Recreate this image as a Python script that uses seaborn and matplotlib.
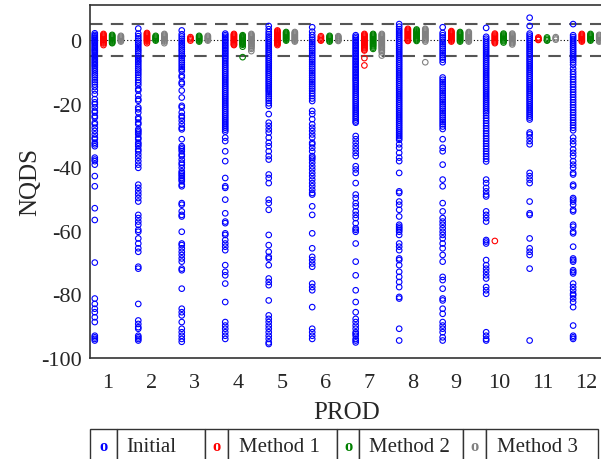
import matplotlib
matplotlib.use("Agg")
import matplotlib.pyplot as plt
import seaborn as sns
import pandas as pd

prods = [str(i) for i in range(1, 13)]
methods = ["Initial", "Method 1", "Method 2", "Method 3"]
colors = ["blue", "red", "green", "gray"]

# NQDS values per PROD (1..12)
initial = [
    [2.1, 1.6, 1.2, 0.8, 0.5, 0.1, -0.3, -0.7, -1.0, -1.4, -1.8, -2.2, -2.6, -3.0, -3.3, -3.7, -4.1, -4.6,
     -5.0, -5.4, -5.9, -6.3, -6.8, -7.2, -7.7, -8.1, -8.6, -9.2, -9.8, -10.5, -11.1, -11.8, -12.6, -13.3,
     -14.0, -14.8, -15.9, -17.0, -18.6, -19.6, -20.2, -21.2, -22.3, -22.8, -23.9, -24.4, -26.0, -26.5,
     -27.6, -28.6, -29.7, -30.7, -31.2, -32.3, -32.8, -33.4, -37.0, -37.6, -38.1, -39.2, -42.8, -46.0,
     -52.9, -56.6, -70.0, -81.3, -83.0, -84.5, -85.6, -87.2, -88.7, -93.0, -93.5, -94.0, -94.5],
    [3.6, 2.0, 1.2, 0.5, -0.2, -0.9, -1.5, -2.2, -2.9, -3.5, -4.2, -5.0, -5.6, -6.3, -6.9, -7.6, -8.3, -9.0,
     -9.6, -10.3, -11.0, -11.8, -12.6, -13.4, -14.2, -15.4, -15.9, -17.5, -18.6, -19.1, -21.2, -21.8, -22.8,
     -24.4, -24.9, -26.0, -26.5, -28.1, -28.6, -29.1, -29.7, -30.7, -31.2, -32.3, -32.8, -33.4, -34.4, -35.0,
     -36.0, -37.0, -38.1, -39.2, -40.2, -45.5, -46.5, -47.6, -48.6, -49.7, -50.8, -55.0, -56.0, -57.1, -58.1,
     -59.7, -60.3, -62.4, -64.0, -65.5, -66.6, -71.3, -71.9, -83.0, -88.2, -89.3, -90.3, -90.8, -93.0, -93.5,
     -94.0, -94.5],
    [3.0, 1.8, 1.1, 0.4, -0.3, -1.0, -1.6, -2.3, -3.0, -3.6, -4.3, -5.0, -5.7, -6.4, -7.1, -7.8, -8.5, -9.2,
     -9.8, -11.2, -11.7, -13.3, -13.8, -15.9, -18.1, -20.7, -21.2, -22.8, -23.9, -24.4, -25.4, -26.5, -27.6,
     -28.1, -31.2, -33.4, -33.9, -34.4, -35.0, -36.0, -36.5, -37.6, -38.6, -39.2, -40.2, -41.3, -41.8, -42.3,
     -42.8, -43.4, -43.9, -44.4, -45.5, -46.0, -51.3, -51.8, -53.9, -55.0, -55.5, -60.3, -64.0, -64.5, -65.5,
     -66.6, -67.6, -68.7, -69.7, -71.9, -72.4, -78.2, -84.5, -85.6, -86.6, -88.7, -90.8, -91.9, -93.0, -94.0,
     -94.9],
    [2.0, 1.5, 1.0, 0.5, 0.0, -0.5, -1.0, -1.5, -2.0, -2.5, -3.0, -3.5, -4.0, -4.5, -5.0, -5.5, -6.0, -6.6,
     -7.2, -7.8, -8.4, -9.0, -9.6, -10.2, -10.8, -11.4, -12.0, -12.6, -13.2, -13.8, -14.4, -15.0, -15.6,
     -16.2, -16.8, -17.4, -18.0, -18.6, -19.2, -19.8, -20.4, -21.0, -21.6, -22.2, -22.8, -23.4, -24.0, -24.6,
     -25.2, -25.8, -26.4, -27.0, -27.6, -28.2, -28.8, -30.7, -31.8, -35.0, -38.1, -43.4, -46.0, -46.5, -50.2,
     -54.5, -57.1, -57.6, -60.8, -61.3, -62.9, -64.0, -65.0, -66.1, -70.8, -72.9, -74.0, -76.6, -82.4, -88.7,
     -89.8, -90.8, -91.9, -93.0, -94.0],
    [4.4, 3.4, 2.5, 1.8, 1.1, 0.5, -0.1, -0.7, -1.3, -1.9, -2.5, -3.1, -3.7, -4.3, -4.9, -5.5, -6.1, -6.7,
     -7.3, -7.9, -8.5, -9.1, -9.7, -10.3, -10.9, -11.5, -12.1, -12.7, -13.3, -13.9, -14.5, -15.1, -15.7,
     -16.3, -17.0, -17.7, -18.4, -19.1, -19.9, -20.7, -23.3, -26.0, -27.0, -28.1, -29.1, -30.7, -32.3, -33.4,
     -35.0, -36.5, -37.6, -42.3, -43.4, -45.0, -50.2, -51.3, -53.4, -61.3, -64.5, -66.6, -68.2, -68.7, -70.8,
     -75.0, -76.1, -77.1, -81.9, -86.6, -87.7, -88.7, -89.8, -90.8, -91.9, -93.0, -94.0, -95.1, -95.6],
    [4.0, 2.6, 1.6, 0.8, 0.1, -0.6, -1.3, -2.0, -2.7, -3.4, -4.1, -4.8, -5.5, -6.2, -6.9, -7.6, -8.3, -9.0,
     -9.7, -10.4, -11.1, -11.8, -12.5, -13.2, -13.9, -14.6, -15.3, -16.0, -16.8, -17.6, -18.4, -19.2, -22.3,
     -23.3, -24.9, -26.5, -27.6, -28.6, -29.7, -30.7, -32.3, -32.8, -33.9, -35.0, -36.5, -37.0, -37.6, -38.6,
     -39.7, -40.7, -41.8, -42.8, -43.9, -45.0, -46.0, -47.1, -48.1, -48.6, -52.3, -55.0, -60.8, -65.5, -68.2,
     -69.2, -70.3, -71.3, -76.6, -77.7, -78.7, -84.0, -90.8, -91.9, -93.0, -94.0],
    [1.5, 1.0, 0.5, 0.0, -0.5, -1.0, -1.5, -2.0, -2.5, -3.0, -3.5, -4.0, -4.5, -5.0, -5.5, -6.0, -6.5, -7.0,
     -7.5, -8.0, -8.5, -9.0, -9.5, -10.0, -10.5, -11.0, -11.5, -12.0, -12.5, -13.0, -13.6, -14.2, -14.8,
     -15.4, -16.0, -16.6, -17.2, -17.8, -18.4, -19.0, -19.6, -20.2, -20.8, -21.4, -22.0, -22.6, -23.2, -23.8,
     -24.4, -25.0, -25.6, -26.0, -30.2, -31.2, -32.3, -33.4, -34.4, -35.5, -36.5, -39.7, -40.7, -41.8, -45.0,
     -48.6, -49.7, -51.3, -52.3, -53.9, -55.0, -56.0, -57.6, -59.2, -59.7, -60.3, -64.0, -69.7, -74.0, -78.7,
     -82.4, -85.6, -87.7, -88.7, -89.8, -90.8, -91.9, -92.4, -93.0, -94.0, -94.5, -95.1],
    [5.0, 4.2, 3.4, 2.8, 2.2, 1.6, 1.0, 0.4, -0.2, -0.8, -1.4, -2.0, -2.6, -3.2, -3.8, -4.4, -5.0, -5.6,
     -6.2, -6.8, -7.4, -8.0, -8.6, -9.2, -9.8, -10.4, -11.0, -11.6, -12.2, -12.8, -13.4, -14.0, -14.6, -15.2,
     -15.8, -16.4, -17.0, -17.6, -18.2, -18.8, -19.4, -20.0, -20.6, -21.2, -21.8, -22.4, -23.0, -23.6, -24.2,
     -24.8, -25.4, -26.0, -26.6, -27.2, -27.8, -28.4, -29.0, -29.6, -30.2, -30.8, -31.4, -32.8, -33.9, -35.5,
     -37.0, -38.1, -41.8, -47.6, -48.1, -50.8, -51.8, -53.4, -55.5, -58.1, -58.7, -59.2, -59.7, -60.3, -61.3,
     -64.0, -65.0, -66.1, -68.7, -69.2, -70.8, -72.9, -74.5, -76.1, -77.7, -80.8, -81.3, -90.8, -94.5],
    [4.0, 2.2, 1.5, 0.8, 0.1, -0.6, -1.3, -2.0, -2.7, -3.4, -4.1, -4.8, -5.5, -6.2, -7.0, -11.8, -12.5,
     -13.2, -13.9, -14.6, -15.3, -16.0, -16.7, -17.4, -18.1, -18.8, -19.5, -20.2, -20.9, -21.6, -22.3, -23.0,
     -23.7, -24.4, -25.1, -25.8, -26.5, -27.2, -28.0, -31.2, -33.9, -35.0, -39.2, -43.9, -46.0, -51.3, -53.9,
     -56.0, -57.1, -58.1, -59.2, -60.3, -61.3, -62.4, -64.0, -65.5, -67.6, -69.7, -74.5, -75.5, -78.2, -81.3,
     -81.9, -84.5, -86.1, -88.7, -89.8, -90.8, -91.9, -93.5, -94.5],
    [3.8, 1.0, 0.4, -0.2, -0.8, -1.4, -2.0, -2.6, -3.2, -3.8, -4.4, -5.0, -5.6, -6.2, -6.8, -7.4, -8.0,
     -8.6, -9.2, -9.8, -10.4, -11.0, -11.6, -12.2, -12.8, -13.4, -14.0, -14.6, -15.2, -15.8, -16.4, -17.0,
     -17.6, -18.2, -18.8, -19.4, -20.0, -20.6, -21.2, -21.8, -22.4, -23.0, -23.8, -24.6, -25.4, -26.2, -27.0,
     -27.8, -28.6, -29.4, -30.2, -31.0, -31.8, -32.6, -33.4, -34.2, -35.0, -35.8, -36.6, -37.4, -38.2, -43.9,
     -45.0, -46.5, -47.6, -48.6, -49.2, -53.9, -55.0, -56.0, -57.1, -62.9, -63.4, -64.0, -69.2, -70.8, -71.9,
     -72.9, -74.0, -75.0, -77.7, -78.7, -79.8, -91.9, -93.0, -94.0, -94.5],
    [7.0, 4.4, 2.0, 1.4, 0.8, 0.2, -0.4, -1.0, -1.6, -2.2, -2.8, -3.4, -4.0, -4.6, -5.2, -5.8, -6.4, -7.0,
     -7.6, -8.2, -8.8, -9.4, -10.0, -10.6, -11.2, -11.8, -12.4, -13.0, -13.6, -14.2, -14.8, -15.4, -16.0,
     -16.6, -17.2, -17.8, -18.4, -19.0, -19.6, -20.2, -20.8, -21.4, -22.0, -22.6, -23.2, -23.8, -24.4, -25.0,
     -29.1, -29.7, -30.7, -31.8, -32.8, -41.8, -42.8, -43.9, -45.0, -50.8, -54.5, -55.0, -62.4, -65.5, -66.6,
     -67.6, -71.9, -94.5],
    [5.0, 1.5, 0.9, 0.3, -0.3, -0.9, -1.5, -2.1, -2.7, -3.3, -3.9, -4.5, -5.1, -5.7, -6.3, -7.0, -7.8, -9.0,
     -10.0, -10.8, -11.6, -12.4, -13.2, -14.0, -14.8, -15.6, -16.4, -17.2, -18.0, -18.8, -19.6, -20.4, -21.2,
     -22.0, -22.8, -23.6, -24.4, -25.2, -26.0, -26.8, -27.6, -28.4, -30.7, -31.8, -32.8, -34.4, -35.5, -36.5,
     -38.1, -39.2, -40.2, -41.8, -42.3, -45.5, -46.0, -49.7, -50.2, -50.8, -51.8, -53.4, -53.9, -58.1, -58.7,
     -60.3, -60.8, -65.0, -68.7, -69.2, -69.7, -72.4, -72.9, -73.4, -76.6, -77.7, -78.7, -79.8, -80.3, -81.3,
     -82.4, -84.0, -89.8, -93.0, -93.5, -94.0],
]

method1 = [
    [1.9, 1.6, 1.3, 1.0, 0.7, 0.4, 0.1, -0.2, -0.5, -0.8, -1.1, -1.6],
    [2.2, 1.9, 1.6, 1.3, 1.0, 0.7, 0.4, 0.1, -0.2, -0.5, -1.0],
    [0.9, 0.5, 0.2, -0.2],
    [1.9, 1.6, 1.3, 1.0, 0.7, 0.4, 0.1, -0.2, -0.5, -0.8, -1.1, -1.4, -1.6],
    [3.0, 2.7, 2.4, 2.1, 1.8, 1.5, 1.2, 0.9, 0.6, 0.3, 0.0, -0.3, -0.6, -0.9, -1.2, -1.6],
    [1.2, 0.8, 0.4, 0.0, -0.2],
    [1.9, 1.6, 1.3, 1.0, 0.7, 0.4, 0.1, -0.2, -0.5, -0.8, -1.1, -1.4, -1.7, -2.0, -2.3, -2.6, -3.0, -3.3,
     -5.7, -8.0],
    [3.5, 3.2, 2.9, 2.6, 2.3, 2.0, 1.7, 1.4, 1.1, 0.8, 0.5, 0.2, -0.1, -0.3],
    [2.8, 2.5, 2.2, 1.9, 1.6, 1.3, 1.0, 0.7, 0.4, 0.1, -0.2, -0.5],
    [2.0, 1.7, 1.4, 1.1, 0.8, 0.5, 0.2, -0.1, -0.4, -0.7, -1.0, -63.2],
    [0.8, 0.5, 0.2, 0.0],
    [1.9, 1.6, 1.3, 1.0, 0.7, 0.4, 0.1, -0.2, -0.5],
]

method2 = [
    [1.6, 1.3, 1.0, 0.7, 0.4, 0.1, -0.2, -0.5, -0.8, -1.0],
    [1.3, 1.0, 0.7, 0.4, 0.1, -0.2],
    [1.3, 1.0, 0.7, 0.4, 0.1, -0.2, -0.5],
    [1.5, 1.2, 0.9, 0.6, 0.3, 0.0, -0.3, -0.6, -0.9, -1.2, -1.5, -2.1, -5.4],
    [2.5, 2.2, 1.9, 1.6, 1.3, 1.0, 0.7, 0.4, 0.1, -0.2],
    [1.3, 1.0, 0.7, 0.4, 0.1, -0.2, -0.5],
    [1.9, 1.6, 1.3, 1.0, 0.7, 0.4, 0.1, -0.2, -0.5, -0.8, -1.1, -1.4, -1.7, -2.0, -2.4, -2.8],
    [3.3, 3.0, 2.7, 2.4, 2.1, 1.8, 1.5, 1.2, 0.9, 0.6, 0.3, 0.0, -0.3],
    [2.5, 2.2, 1.9, 1.6, 1.3, 1.0, 0.7, 0.4, 0.1, -0.2, -0.5],
    [2.0, 1.7, 1.4, 1.1, 0.8, 0.5, 0.2, -0.1, -0.4, -0.8],
    [0.8, 0.4, 0.0, -0.2],
    [1.9, 1.6, 1.3, 1.0, 0.7, 0.4, 0.1, -0.2],
]

method3 = [
    [1.3, 1.0, 0.7, 0.4, 0.1, -0.2, -0.5],
    [1.9, 1.6, 1.3, 1.0, 0.7, 0.4, 0.1, -0.2, -0.5, -1.0],
    [1.3, 1.0, 0.7, 0.4, 0.1, -0.2],
    [1.9, 1.6, 1.3, 1.0, 0.7, 0.4, 0.1, -0.2, -0.5, -0.8, -1.1, -1.4, -1.7, -2.0, -2.4, -2.8, -3.5],
    [2.5, 2.2, 1.9, 1.6, 1.3, 1.0, 0.7, 0.4, 0.1, -0.2, -0.5],
    [1.2, 0.9, 0.6, 0.3, 0.0, -0.3],
    [1.9, 1.6, 1.3, 1.0, 0.7, 0.4, 0.1, -0.2, -0.5, -0.8, -1.1, -1.4, -1.7, -2.0, -2.3, -2.6, -3.0, -3.4,
     -3.9, -4.9],
    [3.5, 3.2, 2.9, 2.6, 2.3, 2.0, 1.7, 1.4, 1.1, 0.8, 0.5, 0.2, -0.1, -0.5, -7.0],
    [2.5, 2.2, 1.9, 1.6, 1.3, 1.0, 0.7, 0.4, 0.1, -0.2, -0.5],
    [2.0, 1.7, 1.4, 1.1, 0.8, 0.5, 0.2, -0.1, -0.4, -0.7, -1.0, -1.4],
    [0.9, 0.5, 0.1],
    [1.6, 1.3, 1.0, 0.7, 0.4, 0.1, -0.2, -0.5],
]

rows = []
for name, series in zip(methods, [initial, method1, method2, method3]):
    for prod, vals in zip(prods, series):
        for v in vals:
            rows.append((prod, name, v))
data = pd.DataFrame(rows, columns=["PROD", "Method", "NQDS"])

sns.set_style("white")
plt.rcParams["font.family"] = ["Liberation Serif", "DejaVu Serif"]
plt.rcParams["axes.unicode_minus"] = False

fig = plt.figure(figsize=(6.01, 4.60), dpi=100)
ax = fig.add_axes([90 / 601, 101 / 460, 514 / 601, 353 / 460])

# reference lines
ax.axhline(5, color="#555555", lw=1.5, ls=(0, (6, 4)), zorder=1)
ax.axhline(-5, color="#555555", lw=1.5, ls=(0, (6, 4)), zorder=1)
ax.axhline(0, color="black", lw=0.8, ls=(0, (1, 2)), zorder=1)

sns.stripplot(data=data, x="PROD", y="NQDS", hue="Method", order=prods, hue_order=methods,
              palette=colors, dodge=True, jitter=False, size=4.0, linewidth=0.8,
              legend=False, ax=ax, zorder=2)

# hollow circles
for coll in ax.collections:
    fc = coll.get_facecolors()
    coll.set_edgecolors(fc)
    coll.set_facecolors("none")

ax.set_xlim(-0.41, 11.41)
ax.set_ylim(-100, 11)
ax.set_yticks([0, -20, -40, -60, -80, -100])
ax.tick_params(axis="both", length=0, labelsize=16)
ax.tick_params(axis="x", pad=11)
ax.tick_params(axis="y", pad=6)
ax.set_xlabel("PROD", fontsize=18, labelpad=6)
ax.set_ylabel("NQDS", fontsize=18, labelpad=0)
for s in ax.spines.values():
    s.set_color("#333333")
    s.set_linewidth(1.2)

# legend drawn as a one-row table
lax = fig.add_axes([90 / 601, -5 / 460, 508 / 601, 35 / 460])
lax.axis("off")
widths = [27, 88, 23, 109, 22, 104, 23, 112]
cells = []
for m in methods:
    cells += ["o", m]
tbl = lax.table(cellText=[cells], colWidths=[w / sum(widths) for w in widths],
                bbox=[0, 0, 1, 1], cellLoc="left")
tbl.auto_set_font_size(False)
for j in range(8):
    cell = tbl[0, j]
    cell.set_edgecolor("#333333")
    cell.set_linewidth(1.0)
    txt = cell.get_text()
    if j % 2 == 0:
        txt.set_color(colors[j // 2])
        txt.set_fontsize(12)
        txt.set_fontweight("bold")
        txt.set_horizontalalignment("center")
        cell._loc = "center"
    else:
        txt.set_fontsize(15)

fig.savefig("out.png", dpi=100)
